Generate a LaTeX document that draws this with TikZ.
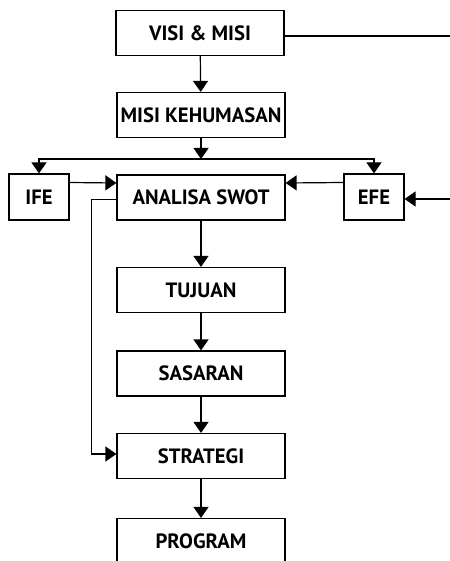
\documentclass[tikz,border=0pt]{standalone}
\usepackage{fontspec}
\setmainfont{PT Sans}
\usetikzlibrary{arrows.meta}

\begin{document}
\begin{tikzpicture}[x=1pt, y=-1pt, line width=1.2pt,
  every node/.style = {shape=rectangle, draw, align=center,
    inner sep=0pt, font=\fontsize{20.7}{24}\selectfont\bfseries},
  mainbox/.style = {minimum width=168pt, minimum height=45pt},
  sidebox/.style = {minimum width=60pt, minimum height=46pt},
  arr/.style = {-{Triangle[length=11pt, width=15pt]}}]
  \useasboundingbox (0,0) rectangle (449,561);
  \node [mainbox] (visi) at (200,33) {VISI \& MISI};
  \node [mainbox] (misi) at (201,115) {MISI KEHUMASAN};
  \node [sidebox] (ife) at (39,197) {IFE};
  \node [mainbox] (swot) at (201,197.5) {ANALISA SWOT};
  \node [sidebox] (efe) at (374,197) {EFE};
  \node [mainbox] (tujuan) at (201,290) {TUJUAN};
  \node [mainbox] (sasaran) at (201,373.5) {SASARAN};
  \node [mainbox] (strategi) at (201,456) {STRATEGI};
  \node [mainbox] (program) at (201,541) {PROGRAM};
  \coordinate (split) at (201,159);
  \coordinate (outer) at (460,36);
  % main line
  \draw [arr] (visi) -- (misi);
  \draw [arr] (misi) -- (split);
  \draw [arr] (split) -| (ife.north);
  \draw [arr] (split) -| (efe.north);
  \draw [arr] ([yshift=14.5pt]ife.east) -- ([yshift=14.5pt]swot.west);
  \draw [arr] ([yshift=14.5pt]efe.west) -- ([yshift=14.5pt]swot.east);
  \draw [arr] (swot) -- (tujuan);
  \draw [arr] (tujuan) -- (sasaran);
  \draw [arr] (sasaran) -- (strategi);
  \draw [arr] (strategi) -- (program);
  % feedback lines
  \draw [arr] (visi.east |- outer) -- (outer) |- ([yshift=-2pt]efe.east);
  \draw [arr] ([yshift=-2pt]swot.west) -- ++(-24.6,0) |- ([yshift=2pt]strategi.west);
\end{tikzpicture}
\end{document}
